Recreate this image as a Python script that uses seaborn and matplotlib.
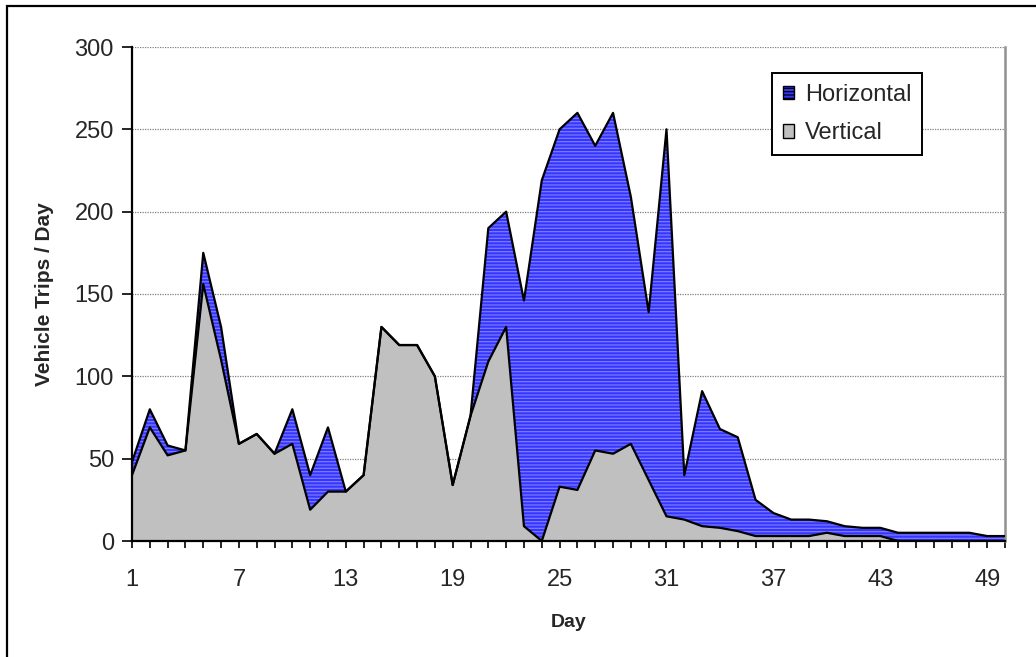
import numpy as np
import pandas as pd
import matplotlib
matplotlib.use("Agg")
import matplotlib.pyplot as plt
import matplotlib.patches as mpatches
import seaborn as sns

# values
days = list(range(1, 51))
horizontal = [48, 80, 58, 55, 175, 130, 59, 65, 53, 80,
              40, 69, 30, 40, 130, 119, 119, 100, 34, 76,
              190, 200, 146, 219, 250, 260, 240, 260, 209, 139,
              250, 40, 91, 68, 63, 25, 17, 13, 13, 12,
              9, 8, 8, 5, 5, 5, 5, 5, 3, 3]
vertical = [40, 69, 52, 55, 156, 110, 59, 65, 53, 59,
            19, 30, 30, 40, 130, 119, 119, 100, 34, 76,
            109, 130, 9, 0, 33, 31, 55, 53, 59, 37,
            15, 13, 9, 8, 6, 3, 3, 3, 3, 5,
            3, 3, 3, 0, 0, 0, 0, 0, 0, 0]
x_tick_days = [1, 7, 13, 19, 25, 31, 37, 43, 49]
y_ticks = [0, 50, 100, 150, 200, 250, 300]


def main():
    sns.set_theme(style="white")
    plt.rcParams["font.family"] = ["Liberation Sans", "DejaVu Sans"]
    plt.rcParams["hatch.linewidth"] = 0.9

    df = pd.DataFrame({"Day": days, "Horizontal": horizontal, "Vertical": vertical})

    W, H = 1036, 657
    fig = plt.figure(figsize=(W / 100, H / 100), dpi=100)
    ax = fig.add_axes([132 / W, 1 - 541 / H, (1005 - 132) / W, (541 - 47) / H])

    # outer chart border (right and bottom edges fall outside the image)
    fig.patches.append(mpatches.Rectangle((7 / W, -0.1), 1.2, 1.1 - 6 / H,
                                          transform=fig.transFigure, fill=False,
                                          edgecolor="black", linewidth=1.6))

    ax.fill_between(df["Day"], 0, df["Horizontal"], facecolor="#3535ff",
                    edgecolor="#7a7aff", hatch="-----", linewidth=0,
                    label="Horizontal", zorder=2)
    ax.fill_between(df["Day"], 0, df["Vertical"], facecolor="#c0c0c0",
                    edgecolor="#c0c0c0", linewidth=0, label="Vertical", zorder=3)
    sns.lineplot(data=df, x="Day", y="Horizontal", ax=ax, color="black",
                 linewidth=1.6, zorder=4, legend=False)
    sns.lineplot(data=df, x="Day", y="Vertical", ax=ax, color="black",
                 linewidth=1.6, zorder=5, legend=False)

    ax.set_xlim(1, 50)
    ax.set_ylim(0, 300)
    ax.set_xticks(x_tick_days)
    ax.set_xticklabels([str(d) for d in x_tick_days])
    ax.set_xticks(days, minor=True)
    ax.set_yticks(y_ticks)
    ax.set_yticklabels([str(v) for v in y_ticks])
    ax.tick_params(axis="both", which="both", direction="out", width=1.2,
                   color="black", labelsize=17, bottom=True, left=True)
    ax.tick_params(axis="x", which="both", length=5, pad=15)
    ax.tick_params(axis="y", length=7, pad=6)

    for y in y_ticks[1:]:
        ax.axhline(y, color="#808080", linewidth=0.9, linestyle=(0, (1, 1)), zorder=1)

    ax.spines["top"].set_visible(False)
    ax.spines["right"].set_color("#909090")
    ax.spines["right"].set_linewidth(1.8)
    for side in ["left", "bottom"]:
        ax.spines[side].set_color("black")
        ax.spines[side].set_linewidth(1.6)
        ax.spines[side].set_zorder(6)

    ax.set_xlabel("Day", fontsize=14, fontweight="bold")
    ax.set_ylabel("Vehicle Trips / Day", fontsize=15, fontweight="bold")
    ax.xaxis.set_label_coords(0.5, -(614 - 541) / 494)
    ax.yaxis.set_label_coords(-(132 - 54) / 873, 0.5)
    ax.xaxis.label.set_verticalalignment("top")

    leg = ax.legend(loc="upper left", bbox_to_anchor=(772 / W, 1 - 73 / H),
                    bbox_transform=fig.transFigure, fontsize=17, frameon=True,
                    fancybox=False, edgecolor="black", framealpha=1,
                    handlelength=0.5, handleheight=0.5, handletextpad=0.45,
                    borderpad=0.45, labelspacing=0.7, borderaxespad=0)
    leg.get_frame().set_linewidth(1.4)
    for h in leg.legend_handles:
        h.set_edgecolor("black")
        h.set_linewidth(1.0)

    fig.savefig("out.png", dpi=100)


if __name__ == "__main__":
    main()
